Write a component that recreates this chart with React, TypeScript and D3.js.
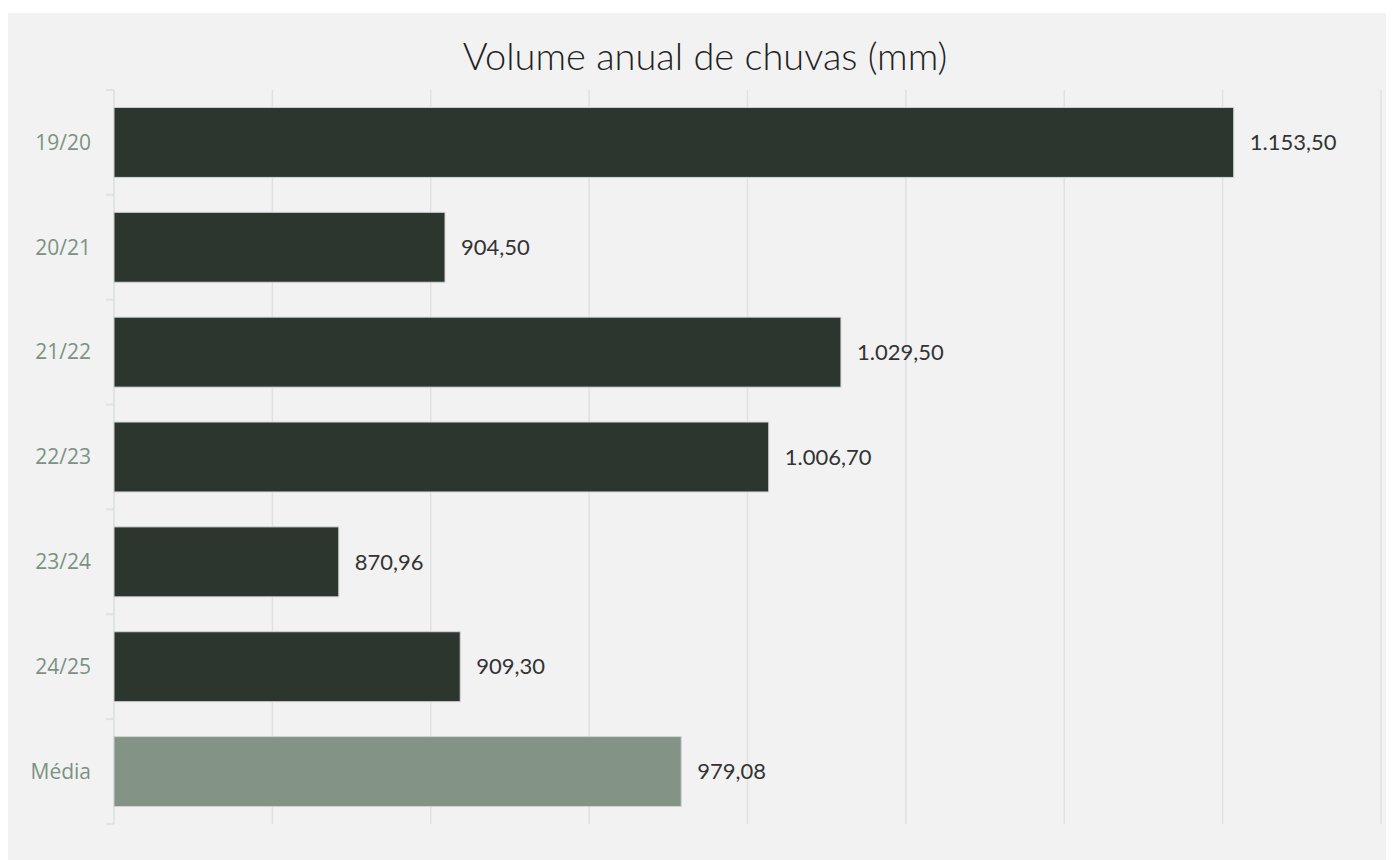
import React, { useEffect, useRef } from "react";
import * as d3 from "d3";

const categories = ["19/20", "20/21", "21/22", "22/23", "23/24", "24/25", "Média"];
const values = [1153.5, 904.5, 1029.5, 1006.7, 870.96, 909.3, 979.08];
const valueLabels = ["1.153,50", "904,50", "1.029,50", "1.006,70", "870,96", "909,30", "979,08"];
const gridTicks = [800, 850, 900, 950, 1000, 1050, 1100, 1150, 1200];
const title = "Volume anual de chuvas (mm)";

const W = 1386;
const H = 852;

export default function App() {
  const ref = useRef<SVGSVGElement | null>(null);

  useEffect(() => {
    const svg = d3.select(ref.current);
    svg.selectAll("*").remove();

    const left = 106;
    const right = 1373;
    const top = 82;
    const bottom = 816;

    svg.append("rect").attr("x", 0).attr("y", 5).attr("width", W).attr("height", H - 5).attr("fill", "#f2f2f2");

    const x = d3.scaleLinear().domain([800, 1200]).range([left, right]);
    const y = d3.scaleBand<string>().domain(categories).range([top, bottom]).paddingInner(0.333).paddingOuter(0.1665);

    svg
      .append("g")
      .selectAll("line")
      .data(gridTicks.slice(1))
      .join("line")
      .attr("x1", (d) => x(d))
      .attr("x2", (d) => x(d))
      .attr("y1", top)
      .attr("y2", bottom)
      .attr("stroke", "#e1e1e1")
      .attr("stroke-width", 1.5);

    const step = y.step();
    const axisG = svg.append("g");
    axisG
      .append("line")
      .attr("x1", left)
      .attr("x2", left)
      .attr("y1", top)
      .attr("y2", bottom)
      .attr("stroke", "#e0e4e1")
      .attr("stroke-width", 2);
    axisG
      .selectAll("line.tk")
      .data(d3.range(categories.length + 1))
      .join("line")
      .attr("class", "tk")
      .attr("x1", left - 8)
      .attr("x2", left)
      .attr("y1", (i) => top + i * step)
      .attr("y2", (i) => top + i * step)
      .attr("stroke", "#e0e4e1")
      .attr("stroke-width", 2);

    svg
      .append("g")
      .selectAll("rect")
      .data(categories)
      .join("rect")
      .attr("x", x(800))
      .attr("y", (d) => y(d)!)
      .attr("width", (d, i) => x(values[i]) - x(800))
      .attr("height", y.bandwidth())
      .attr("fill", (d) => (d === "Média" ? "#839487" : "#2c352e"))
      .attr("stroke", "#d0d4d0")
      .attr("stroke-width", 1);

    svg
      .append("g")
      .selectAll("text")
      .data(categories)
      .join("text")
      .attr("x", (d, i) => x(values[i]) + 16)
      .attr("y", (d) => y(d)! + y.bandwidth() / 2)
      .attr("dy", "0.35em")
      .attr("font-family", "Lato, sans-serif")
      .attr("font-size", 22)
      .attr("fill", "#333333")
      .text((d, i) => valueLabels[i]);

    svg
      .append("g")
      .selectAll("text")
      .data(categories)
      .join("text")
      .attr("x", left - 23)
      .attr("y", (d) => y(d)! + y.bandwidth() / 2)
      .attr("dy", "0.35em")
      .attr("text-anchor", "end")
      .attr("font-family", "'Open Sans', sans-serif")
      .attr("font-size", 21)
      .attr("fill", "#7b9282")
      .text((d) => d);

    svg
      .append("text")
      .attr("x", 697)
      .attr("y", 62)
      .attr("text-anchor", "middle")
      .attr("font-family", "Lato, sans-serif")
      .attr("font-weight", 300)
      .attr("font-size", 38)
      .attr("fill", "#222")
      .text(title);
  }, []);

  return <svg ref={ref} width={W} height={H} style={{ display: "block" }} />;
}
